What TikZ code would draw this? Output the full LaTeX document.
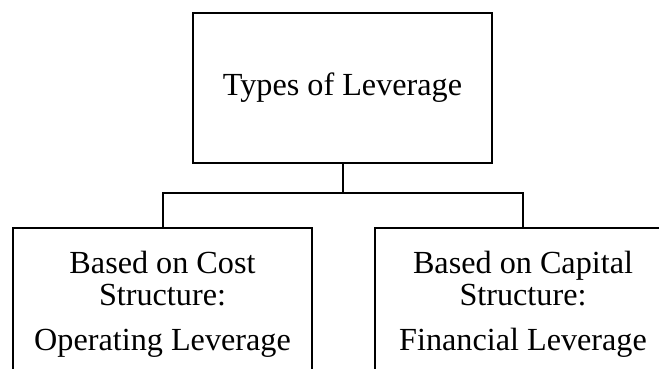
\documentclass[tikz,border=0pt]{standalone}
\usepackage{fontspec}
\setmainfont{Liberation Serif}
\usepackage{tikz}
\usetikzlibrary{positioning,calc}
\usepackage{xcolor}
\definecolor{Ink}{RGB}{0,0,0}
\tikzset{
  lnode/.style={rectangle,draw=Ink,fill=white,line width=1pt,
                font=\fontsize{16.1}{16}\selectfont,align=center,
                inner sep=0pt},
  lroot/.style={lnode,minimum width=149.5pt,minimum height=75pt},
  lleaf/.style={lnode,minimum height=76.5pt},
  ledge/.style={Ink,line width=1pt},
}
\begin{document}
\begin{tikzpicture}[x=0.5pt,y=-0.5pt]
    \useasboundingbox (0,0) rectangle (659,369);
    \fill[white] (0,0) rectangle (659,369);
    \node[lroot] (types) at (342.5,88) {Types of Leverage};
    \node[lleaf,minimum width=149.5pt,anchor=north] (cost) at (162.5,227)
      {Based on Cost\\Structure:\\[6.5pt]Operating Leverage};
    \node[lleaf,minimum width=148pt,anchor=north] (capital) at (523,227)
      {Based on Capital\\Structure:\\[6.5pt]Financial Leverage};
    \coordinate (fork) at (342.5,193);
    \draw[ledge] (types.south) -- (fork) -| (cost.north);
    \draw[ledge] (fork) -| (capital.north);
\end{tikzpicture}
\end{document}
